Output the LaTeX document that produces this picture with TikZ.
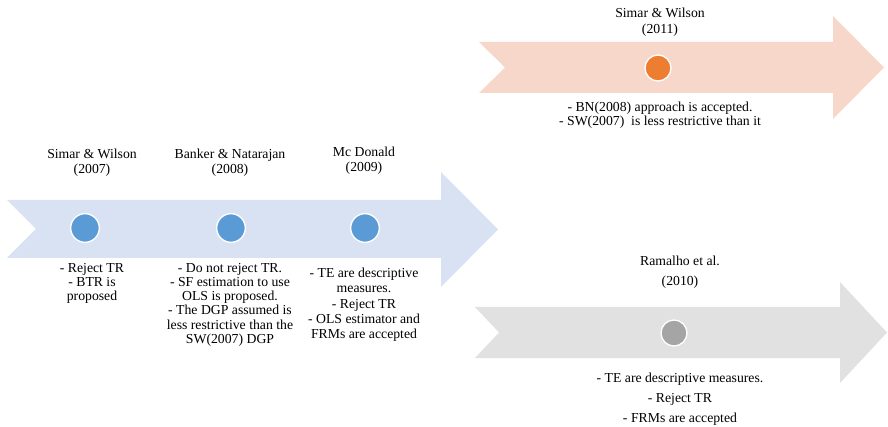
\documentclass[tikz,border=0pt]{standalone}
\usepackage{fontspec}
\setmainfont{Liberation Serif}
\definecolor{bandblue}{RGB}{216,226,242}
\definecolor{dotblue}{RGB}{91,155,213}
\definecolor{bandorange}{RGB}{248,215,203}
\definecolor{dotorange}{RGB}{237,125,49}
\definecolor{bandgray}{RGB}{225,225,225}
\definecolor{dotgray}{RGB}{165,165,165}

\begin{document}
\begin{tikzpicture}[
    x=0.75pt, y=-0.75pt,
    dot/.style={circle, draw=white, line width=1pt, inner sep=0pt,
                minimum size=21.5pt},
    smalldot/.style={dot, minimum size=19.5pt},
    lbl/.style={anchor=north, inner sep=0pt, align=center,
                font={\fontsize{10.3}{#1}\selectfont}},
    lbl/.default=11
]
\useasboundingbox (0,0) rectangle (888,427);

% Bands
\fill[bandblue] (7,200) -- (441,200) -- (441,172) -- (498,229.5) -- (441,287)
    -- (441,258) -- (7,258) -- (36,229) -- cycle;
\fill[bandorange] (479,42) -- (833,42) -- (833,16) -- (884,67.5) -- (833,119)
    -- (833,93) -- (479,93) -- (505,67.5) -- cycle;
\fill[bandgray] (475,307) -- (840,307) -- (840,282) -- (887,332.5) -- (840,383)
    -- (840,358) -- (475,358) -- (499,332.5) -- cycle;

% Milestones
\node[dot, fill=dotblue] (dsw07) at (85,228) {};
\node[dot, fill=dotblue] (dbn08) at (231,228) {};
\node[dot, fill=dotblue] (dmd09) at (365,228) {};
\node[smalldot, fill=dotorange] (dsw11) at (658,68) {};
\node[smalldot, fill=dotgray] (dra10) at (674,333) {};

% Authors
\node[lbl] (sw07) at (92,149) {Simar \& Wilson\\(2007)};
\node[lbl] (bn08) at (230,149) {Banker \& Natarajan\\(2008)};
\node[lbl=11.3] (md09) at (364,147) {Mc Donald\\(2009)};
\node[lbl=12] (sw11) at (660,8) {Simar \& Wilson\\(2011)};
\node[lbl=15] (ra10) at (680,256) {Ramalho et al.\\(2010)};

% Findings
\node[lbl=10.6] (sw07n) at (92,263) {- Reject TR\\- BTR is\\proposed};
\node[lbl=10.65] (bn08n) at (230,263) {- Do not reject TR.\\- SF estimation to use\\OLS is proposed.\\- The DGP assumed is\\less restrictive than the\\SW(2007) DGP};
\node[lbl=11.4] (md09n) at (364,268) {- TE are descriptive\\measures.\\- Reject TR\\- OLS estimator and\\FRMs are accepted};
\node[lbl=10.5] (sw11n) at (660,102) {- BN(2008) approach is accepted.\\- SW(2007)\ \ is less restrictive than it};
\node[lbl=15] (ra10n) at (680,373) {- TE are descriptive measures.\\- Reject TR\\- FRMs are accepted};

\end{tikzpicture}
\end{document}
